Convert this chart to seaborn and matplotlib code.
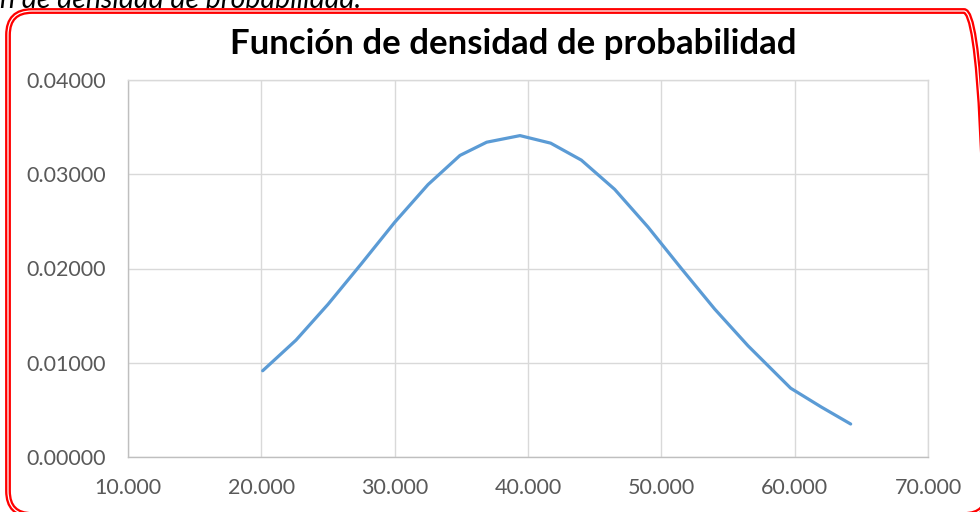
import matplotlib
matplotlib.use("Agg")
import matplotlib.pyplot as plt
import seaborn as sns
import pandas as pd
from matplotlib.patches import FancyBboxPatch
from matplotlib.ticker import FormatStrFormatter

# Data
x_values = [20.1, 22.6, 25.0, 27.5, 30.0, 32.5, 34.9, 36.9, 39.4, 41.7,
            44.0, 46.5, 49.0, 51.5, 54.0, 56.5, 59.7, 62.0, 64.2]
densities = [0.00915, 0.0124, 0.0162, 0.0205, 0.0249, 0.0289, 0.0320, 0.0334,
             0.0341, 0.0333, 0.0315, 0.0284, 0.0244, 0.0200, 0.0157, 0.0118,
             0.0073, 0.0053, 0.0035]
x_ticks = [10, 20, 30, 40, 50, 60, 70]
y_ticks = [0.0, 0.01, 0.02, 0.03, 0.04]
title = "Función de densidad de probabilidad"
caption_fragment = "n de densidad de probabilidad."

sns.set_theme(style="whitegrid")
plt.rcParams['font.family'] = ['Lato', 'DejaVu Sans']

W, H = 980, 512
fig = plt.figure(figsize=(W / 100, H / 100), dpi=100)
ax = fig.add_axes([128 / W, 1 - 457 / H, 800 / W, 377 / H])

df = pd.DataFrame({"x": x_values, "y": densities})
sns.lineplot(data=df, x="x", y="y", ax=ax, color="#5b9bd5", linewidth=2.3,
             sort=False)

ax.set_xlim(10, 70)
ax.set_ylim(0, 0.04)
ax.set_xticks(x_ticks)
ax.set_yticks(y_ticks)
ax.xaxis.set_major_formatter(FormatStrFormatter("%.3f"))
ax.yaxis.set_major_formatter(FormatStrFormatter("%.5f"))
ax.set_xlabel("")
ax.set_ylabel("")
ax.grid(True, color="#d9d9d9", linewidth=1.0)
ax.set_facecolor("white")
for side, sp in ax.spines.items():
    sp.set_visible(True)
    sp.set_color("#d9d9d9")
    sp.set_linewidth(1.0)
ax.spines['left'].set_color("#bfbfbf")
ax.spines['bottom'].set_color("#bfbfbf")
ax.tick_params(axis='both', length=0, labelsize=15.5, labelcolor="#595959")
ax.tick_params(axis='x', pad=15)
ax.tick_params(axis='y', pad=16)

fig.text(513 / W, 1 - 44 / H, title, ha="center", va="center",
         fontsize=25, fontweight="bold", color="black")

fig.text(0 / W, 1 - 8 / H, caption_fragment, ha="left", va="baseline",
         fontsize=20.5, fontstyle="italic", color="black")

# Rounded red double border
box_kw = dict(boxstyle="round,pad=0,rounding_size=24",
              transform=None, fill=False, zorder=10)
x0, y0, x1, y1 = 8, -3, 988, 501
outer = FancyBboxPatch((x0, y0), x1 - x0, y1 - y0, edgecolor="#ff0000",
                       linewidth=4.2, **box_kw)
inner = FancyBboxPatch((x0, y0), x1 - x0, y1 - y0, edgecolor="white",
                       linewidth=0.9, **box_kw)
fig.patches.extend([outer, inner])

fig.savefig("out.png", dpi=100, facecolor="white")
